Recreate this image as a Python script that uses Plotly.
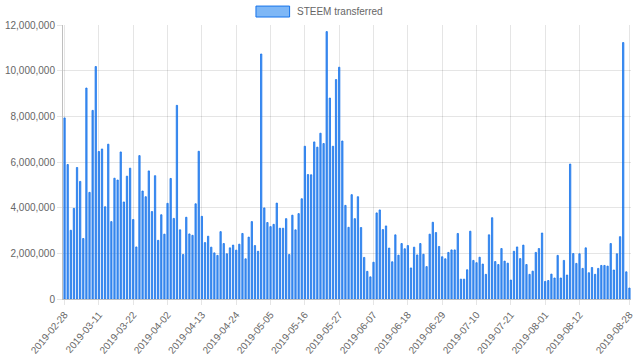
import pandas as pd
import plotly.graph_objects as go

# Categories: one per day
dates = [d.strftime("%Y-%m-%d") for d in pd.date_range("2019-02-28", "2019-08-28", freq="D")]

# STEEM transferred per day (millions)
steem_millions = [
    7.93, 5.89, 3.01, 3.97, 5.76, 5.15, 2.65, 9.24, 4.67, 8.26,
    10.18, 6.46, 6.57, 4.04, 6.78, 3.39, 5.29, 5.21, 6.44, 4.25,
    5.38, 5.73, 3.48, 2.28, 6.28, 4.73, 4.48, 5.61, 3.83, 5.40,
    2.57, 3.69, 2.84, 4.19, 5.28, 3.53, 8.48, 3.03, 1.95, 3.58,
    2.85, 2.79, 4.17, 6.47, 3.62, 2.47, 2.75, 2.27, 2.02, 1.91,
    2.95, 2.43, 1.98, 2.24, 2.36, 2.14, 2.40, 2.87, 1.76, 2.71,
    3.39, 2.34, 2.09, 10.73, 3.99, 3.35, 3.17, 3.27, 4.20, 3.10,
    3.10, 3.52, 1.95, 3.67, 3.03, 3.74, 4.39, 6.69, 5.45, 5.44,
    6.88, 6.65, 7.26, 6.81, 11.71, 8.80, 6.69, 9.61, 10.15, 6.92,
    4.10, 3.14, 4.57, 3.52, 4.48, 3.13, 1.82, 1.21, 0.97, 1.61,
    3.77, 3.90, 3.04, 3.20, 2.23, 1.63, 2.81, 1.92, 2.43, 2.20,
    2.34, 1.36, 2.27, 1.93, 2.43, 1.96, 1.42, 2.84, 3.36, 2.91,
    2.30, 1.85, 1.76, 2.04, 2.15, 2.15, 2.87, 0.87, 0.87, 1.28,
    2.97, 1.69, 1.59, 1.83, 1.53, 1.08, 2.81, 3.56, 1.64, 1.51,
    2.21, 1.66, 1.57, 0.83, 2.09, 2.28, 1.77, 2.36, 1.51, 1.08,
    1.22, 2.04, 2.21, 2.89, 0.77, 0.81, 1.09, 0.92, 1.91, 0.92,
    1.69, 1.05, 5.91, 1.99, 1.56, 1.98, 1.34, 2.24, 1.15, 1.38,
    1.08, 1.34, 1.47, 1.47, 1.44, 2.43, 1.27, 1.98, 2.73, 11.23,
    1.19, 0.48,
]
steem_values = [round(v * 1_000_000) for v in steem_millions]

# Tick labels shown on the x axis
x_tick_labels = [
    "2019-02-28", "2019-03-11", "2019-03-22", "2019-04-02", "2019-04-13",
    "2019-04-24", "2019-05-05", "2019-05-16", "2019-05-27", "2019-06-07",
    "2019-06-18", "2019-06-29", "2019-07-10", "2019-07-21", "2019-08-01",
    "2019-08-12", "2019-08-28",
]
y_tick_values = [0, 2_000_000, 4_000_000, 6_000_000, 8_000_000, 10_000_000, 12_000_000]

series_name = "STEEM transferred"
bar_fill = "rgba(35,125,238,0.8)"
legend_fill = "rgba(40,135,240,0.6)"
line_color = "rgb(22,115,235)"
font_family = "Liberation Sans, Arial, Helvetica, sans-serif"
text_color = "#666666"
grid_color = "rgba(0,0,0,0.1)"

W, H = 640, 361
ML, MR, MT, MB = 61, 5, 25, 61
PW, PH = W - ML - MR, H - MT - MB


def px_to_paper_x(p):
    return (p - ML) / PW


def px_to_paper_y(p):
    return (H - MB - p) / PH


fig = go.Figure()
fig.add_trace(go.Bar(
    x=dates,
    y=steem_values,
    name=series_name,
    marker=dict(color=bar_fill, line=dict(color=line_color, width=0.8)),
    showlegend=False,
))

fig.update_layout(
    width=W,
    height=H,
    margin=dict(l=ML, r=MR, t=MT, b=MB),
    paper_bgcolor="white",
    plot_bgcolor="white",
    bargap=0.58,
    font=dict(family=font_family, size=10, color=text_color),
    xaxis=dict(
        type="category",
        tickmode="array",
        tickvals=x_tick_labels,
        ticktext=x_tick_labels,
        tickangle=-50,
        showgrid=True,
        gridcolor=grid_color,
        gridwidth=1,
        ticks="outside",
        ticklen=5,
        tickcolor=grid_color,
        showline=True,
        linecolor="rgba(0,0,0,0.25)",
        linewidth=1,
        tickfont=dict(size=10, color=text_color),
    ),
    yaxis=dict(
        range=[0, 12_000_000],
        tickmode="array",
        tickvals=y_tick_values,
        tickformat=",d",
        showgrid=True,
        gridcolor=grid_color,
        gridwidth=1,
        ticks="outside",
        ticklen=5,
        tickcolor=grid_color,
        showline=True,
        linecolor="rgba(0,0,0,0.25)",
        linewidth=1,
        zeroline=False,
        tickfont=dict(size=10, color=text_color),
    ),
)

# Chart.js-style legend: wide colour box plus label
fig.add_shape(
    type="rect", xref="paper", yref="paper",
    x0=px_to_paper_x(256), x1=px_to_paper_x(290),
    y0=px_to_paper_y(17), y1=px_to_paper_y(6),
    fillcolor=legend_fill,
    line=dict(color=line_color, width=1),
)
fig.add_annotation(
    xref="paper", yref="paper",
    x=px_to_paper_x(295), y=px_to_paper_y(11.5),
    xanchor="left", yanchor="middle",
    text=series_name, showarrow=False,
    font=dict(family=font_family, size=10, color=text_color),
)

fig.write_html(
    "out.html",
    config={"displayModeBar": False},
    post_script="document.body.style.margin='0';document.body.style.padding='0';",
)
